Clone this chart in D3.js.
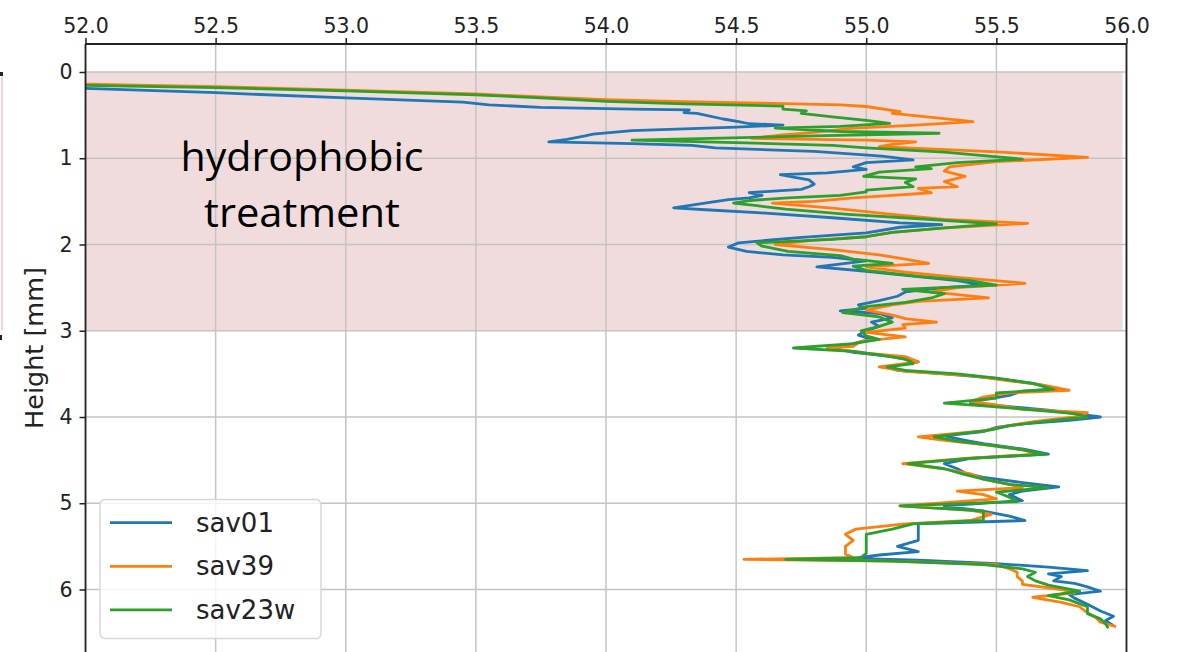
<!DOCTYPE html>
<html>
<head>
<meta charset="utf-8">
<script src="https://cdn.jsdelivr.net/npm/d3@7"></script>
<style>
  html, body { margin: 0; padding: 0; background: #ffffff; }
  svg { display: block; }
</style>
</head>
<body>
<svg id="chart" width="1177" height="652"></svg>
<script>
// ---------------- DATA ----------------
const seriesNames = ["sav01", "sav39", "sav23w"];
const xTicks = [52.0, 52.5, 53.0, 53.5, 54.0, 54.5, 55.0, 55.5, 56.0];
const yTicks = [0, 1, 2, 3, 4, 5, 6];
const shadedBand = [0, 3];   // hydrophobic treatment zone (mm)
const annotationLines = ["hydrophobic", "treatment"];
const yLabel = "Height [mm]";

// [height (mm), value]
const sav01 = [
  [0.19,52.0],[0.24,52.5],[0.30,53.0],[0.35,53.45],[0.38,53.55],[0.41,53.75],[0.43,54.1],[0.44,54.32],
  [0.47,54.3],[0.48,54.35],[0.545,54.45],[0.575,54.51],[0.60,54.55],[0.615,54.68],[0.64,54.5],
  [0.68,54.1],[0.72,53.95],[0.74,53.92],[0.78,53.85],[0.81,53.78],[0.83,54.1],[0.85,54.33],
  [0.88,54.42],[0.92,54.8],[0.975,55.06],[1.02,55.18],[1.05,55.0],[1.10,54.95],[1.13,55.0],
  [1.17,54.85],[1.19,54.67],[1.22,54.72],[1.25,54.78],[1.30,54.8],[1.33,54.78],[1.36,54.75],
  [1.40,54.55],[1.43,54.6],[1.46,54.55],[1.48,54.47],[1.52,54.38],[1.575,54.26],[1.60,54.4],
  [1.63,54.58],[1.69,54.87],[1.75,55.13],[1.77,55.29],[1.80,55.13],[1.865,55.0],[1.92,54.74],
  [1.98,54.51],[2.03,54.47],[2.08,54.54],[2.12,54.68],[2.15,54.87],[2.19,55.0],[2.26,54.81],
  [2.31,55.0],[2.37,55.19],[2.42,55.35],[2.47,55.45],[2.50,55.3],[2.55,55.15],[2.60,55.12],
  [2.65,55.05],[2.70,54.97],[2.74,55.0],[2.77,54.9],[2.80,55.05],[2.85,55.1],[2.90,55.02],
  [2.95,55.05],[3.0,55.0],[3.05,54.97],[3.1,55.02],[3.15,54.95],[3.2,54.87],[3.25,54.95],
  [3.3,55.1],[3.36,55.2],[3.42,55.08],[3.46,55.12],[3.5,55.3],[3.55,55.49],[3.61,55.64],
  [3.67,55.74],[3.70,55.6],[3.75,55.55],[3.80,55.45],[3.84,55.4],[3.88,55.55],[3.92,55.7],
  [3.96,55.8],[4.0,55.9],[4.04,55.78],[4.08,55.6],[4.12,55.5],[4.17,55.45],[4.22,55.3],
  [4.27,55.38],[4.31,55.45],[4.37,55.6],[4.43,55.7],[4.48,55.4],[4.54,55.3],[4.6,55.35],
  [4.65,55.38],[4.70,55.45],[4.76,55.6],[4.81,55.74],[4.86,55.6],[4.90,55.55],[4.97,55.6],
  [5.03,55.3],[5.09,55.45],[5.15,55.55],[5.2,55.61],[5.24,55.2],[5.3,55.2],[5.36,55.2],
  [5.43,55.2],[5.5,55.12],[5.56,55.2],[5.6,55.05],[5.64,54.95],[5.66,55.2],[5.7,55.5],
  [5.74,55.7],[5.78,55.85],[5.82,55.7],[5.85,55.75],[5.9,55.72],[5.93,55.8],[5.97,55.85],
  [6.02,55.9],[6.06,55.78],[6.1,55.8],[6.17,55.85],[6.25,55.9],[6.31,55.95],[6.36,55.92],[6.42,55.95]
];
const sav39 = [
  [0.14,52.0],[0.17,52.5],[0.21,53.0],[0.255,53.5],[0.29,53.75],[0.32,54.0],[0.345,54.3],
  [0.36,54.6],[0.38,54.9],[0.40,55.0],[0.46,55.13],[0.48,55.1],[0.537,55.29],[0.576,55.41],
  [0.615,55.19],[0.653,54.94],[0.70,54.8],[0.73,54.68],[0.77,54.56],[0.79,55.0],[0.81,55.19],
  [0.84,55.1],[0.866,55.05],[0.925,55.5],[0.99,55.85],[1.04,55.5],[1.10,55.32],[1.15,55.3],
  [1.21,55.38],[1.27,55.3],[1.33,55.35],[1.35,55.2],[1.40,55.25],[1.43,55.1],[1.46,54.95],
  [1.50,54.8],[1.52,54.64],[1.58,54.88],[1.65,55.1],[1.71,55.3],[1.755,55.62],[1.81,55.29],
  [1.86,55.1],[1.91,55.0],[1.95,54.8],[2.0,54.65],[2.06,54.87],[2.12,55.05],[2.17,55.15],
  [2.22,55.24],[2.26,55.0],[2.32,55.15],[2.38,55.35],[2.45,55.61],[2.50,55.35],[2.55,55.25],
  [2.62,55.47],[2.66,55.2],[2.70,55.1],[2.76,55.0],[2.82,55.1],[2.86,55.15],[2.9,55.27],
  [2.93,55.14],[2.97,55.15],[3.02,55.0],[3.07,55.15],[3.12,54.98],[3.18,54.95],[3.2,54.85],
  [3.26,55.0],[3.3,55.15],[3.36,55.2],[3.42,55.05],[3.47,55.15],[3.52,55.4],[3.58,55.55],
  [3.63,55.68],[3.69,55.78],[3.72,55.55],[3.77,55.45],[3.82,55.4],[3.86,55.5],[3.91,55.6],
  [3.95,55.85],[4.0,55.8],[4.05,55.65],[4.1,55.55],[4.16,55.45],[4.23,55.2],[4.27,55.3],
  [4.32,55.45],[4.38,55.6],[4.43,55.66],[4.48,55.38],[4.54,55.14],[4.6,55.3],[4.66,55.4],
  [4.72,55.45],[4.78,55.55],[4.82,55.6],[4.86,55.35],[4.9,55.45],[4.95,55.5],[5.03,55.13],
  [5.08,55.4],[5.13,55.48],[5.2,55.4],[5.24,55.15],[5.3,54.96],[5.36,54.92],[5.43,54.95],
  [5.5,54.92],[5.59,54.92],[5.63,54.95],[5.65,54.53],[5.67,55.1],[5.71,55.5],[5.76,55.55],
  [5.8,55.58],[5.85,55.58],[5.9,55.6],[5.94,55.6],[6.0,55.75],[6.04,55.8],[6.09,55.64],
  [6.15,55.75],[6.2,55.82],[6.27,55.85],[6.32,55.88],[6.38,55.9],[6.43,55.96]
];
const sav23w = [
  [0.155,52.0],[0.18,52.5],[0.22,53.0],[0.265,53.5],[0.30,53.75],[0.34,54.0],[0.37,54.3],
  [0.395,54.68],[0.43,54.68],[0.45,54.77],[0.48,54.75],[0.52,54.87],[0.56,55.0],[0.595,55.09],
  [0.63,54.9],[0.65,54.65],[0.69,54.9],[0.71,55.28],[0.74,54.8],[0.77,54.4],[0.79,54.1],
  [0.82,54.5],[0.85,54.87],[0.88,55.0],[0.93,55.3],[0.97,55.45],[1.01,55.6],[1.05,55.35],
  [1.10,55.19],[1.12,55.25],[1.16,55.05],[1.21,54.99],[1.24,55.19],[1.28,55.15],[1.33,55.18],
  [1.37,55.0],[1.39,55.0],[1.43,54.9],[1.46,54.7],[1.49,54.55],[1.52,54.49],[1.55,54.58],
  [1.59,54.69],[1.65,54.93],[1.71,55.25],[1.76,55.5],[1.81,55.29],[1.86,55.1],[1.91,55.0],
  [1.94,54.87],[1.98,54.58],[2.02,54.6],[2.08,54.7],[2.13,54.9],[2.17,54.95],[2.22,55.1],
  [2.25,54.95],[2.3,55.0],[2.37,55.2],[2.42,55.4],[2.47,55.5],[2.52,55.14],[2.57,55.3],
  [2.62,55.25],[2.67,55.15],[2.72,55.0],[2.79,54.91],[2.84,55.05],[2.9,55.1],[2.95,55.05],
  [3.0,54.98],[3.06,55.0],[3.1,55.05],[3.15,54.95],[3.2,54.72],[3.24,54.95],[3.28,55.05],
  [3.33,55.15],[3.38,55.18],[3.42,55.08],[3.46,55.15],[3.5,55.35],[3.55,55.5],[3.61,55.64],
  [3.68,55.72],[3.72,55.5],[3.78,55.5],[3.84,55.3],[3.87,55.45],[3.92,55.65],[3.96,55.8],
  [4.0,55.85],[4.04,55.72],[4.1,55.55],[4.15,55.48],[4.23,55.26],[4.28,55.35],[4.33,55.48],
  [4.38,55.6],[4.43,55.69],[4.48,55.4],[4.54,55.16],[4.6,55.3],[4.66,55.37],[4.72,55.45],
  [4.78,55.55],[4.82,55.7],[4.87,55.5],[4.93,55.55],[4.98,55.58],[5.03,55.13],[5.09,55.45],
  [5.15,55.45],[5.2,55.45],[5.24,55.18],[5.3,55.1],[5.36,55.0],[5.43,55.0],[5.5,55.0],
  [5.58,55.0],[5.63,54.98],[5.65,54.69],[5.67,55.1],[5.71,55.45],[5.76,55.6],[5.8,55.65],
  [5.85,55.62],[5.9,55.65],[5.95,55.7],[6.02,55.82],[6.07,55.7],[6.12,55.78],[6.2,55.85],
  [6.28,55.85],[6.34,55.9],[6.4,55.92],[6.45,55.93]
];
const seriesColors = ["#1f77b4", "#ff7f0e", "#2ca02c"];
const seriesData = [sav01, sav39, sav23w];

// ---------------- DRAW ----------------
const svg = d3.select("#chart");
const W = 1177, H = 652;
const pLeft = 85.5, pRight = 1126.5, pTop = 44, pBottom = 700;

svg.append("rect").attr("width", W).attr("height", H).attr("fill", "#ffffff");

const x = d3.scaleLinear().domain([52, 56]).range([pLeft, pRight]);
const y = d3.scaleLinear().domain([0, 6]).range([72, 589.5]);

svg.append("defs").append("clipPath").attr("id", "plotclip")
  .append("rect").attr("x", pLeft).attr("y", pTop).attr("width", pRight - pLeft).attr("height", pBottom - pTop);

// artifacts of neighbouring panel at far left
svg.append("line").attr("x1", 2).attr("x2", 2).attr("y1", 77).attr("y2", 330)
  .attr("stroke", "#f1d4d4").attr("stroke-width", 2);
svg.append("rect").attr("x", 0).attr("y", 72).attr("width", 3).attr("height", 4).attr("fill", "#222");
svg.append("rect").attr("x", 0).attr("y", 335).attr("width", 2).attr("height", 5).attr("fill", "#222");

const plot = svg.append("g").attr("clip-path", "url(#plotclip)");

// shaded band
plot.append("rect")
  .attr("x", x(52)).attr("y", y(shadedBand[0]))
  .attr("width", x(55.985) - x(52)).attr("height", y(shadedBand[1]) - y(shadedBand[0]))
  .attr("fill", "#f0dcdc");

// grid
plot.append("g").selectAll("line").data(xTicks).join("line")
  .attr("x1", d => x(d)).attr("x2", d => x(d)).attr("y1", pTop).attr("y2", pBottom)
  .attr("stroke", "#c4c4c4").attr("stroke-width", 1.5);
plot.append("g").selectAll("line").data(yTicks).join("line")
  .attr("x1", pLeft).attr("x2", pRight).attr("y1", d => y(d)).attr("y2", d => y(d))
  .attr("stroke", "#c4c4c4").attr("stroke-width", 1.5);

// annotation text
const ann = svg.append("g").attr("font-family", "'Open Sans', sans-serif").attr("fill", "#000");
ann.append("text").attr("x", 302).attr("y", 171).attr("text-anchor", "middle")
  .attr("font-size", 40).attr("textLength", 243).attr("lengthAdjust", "spacingAndGlyphs")
  .text(annotationLines[0]);
ann.append("text").attr("x", 302).attr("y", 227).attr("text-anchor", "middle")
  .attr("font-size", 40).attr("textLength", 196).attr("lengthAdjust", "spacingAndGlyphs")
  .text(annotationLines[1]);

// lines
const line = d3.line().x(d => x(d[1])).y(d => y(d[0]));
seriesData.forEach((s, i) => {
  plot.append("path").datum(s)
    .attr("d", line)
    .attr("fill", "none")
    .attr("stroke", seriesColors[i])
    .attr("stroke-width", 2.8)
    .attr("stroke-linejoin", "round");
});

// spines
svg.append("line").attr("x1", pLeft).attr("x2", pRight).attr("y1", pTop).attr("y2", pTop)
  .attr("stroke", "#222").attr("stroke-width", 1.8);
svg.append("line").attr("x1", pLeft).attr("x2", pLeft).attr("y1", pTop).attr("y2", H)
  .attr("stroke", "#222").attr("stroke-width", 1.8);
svg.append("line").attr("x1", pRight).attr("x2", pRight).attr("y1", pTop).attr("y2", H)
  .attr("stroke", "#222").attr("stroke-width", 1.8);

// axes
const xAxis = d3.axisTop(x).tickValues(xTicks).tickFormat(d3.format(".1f")).tickSize(6).tickPadding(5);
const gx = svg.append("g").attr("transform", `translate(0,${pTop})`).call(xAxis);
gx.select(".domain").remove();
gx.selectAll(".tick line").attr("stroke", "#222").attr("stroke-width", 1.5);
gx.selectAll(".tick text").attr("font-family", "'DejaVu Sans', sans-serif").attr("font-size", 20.5).attr("fill", "#222");

const yAxis = d3.axisLeft(y).tickValues(yTicks).tickFormat(d3.format("d")).tickSize(6).tickPadding(7);
const gy = svg.append("g").attr("transform", `translate(${pLeft},0)`).call(yAxis);
gy.select(".domain").remove();
gy.selectAll(".tick line").attr("stroke", "#222").attr("stroke-width", 1.5);
gy.selectAll(".tick text").attr("font-family", "'DejaVu Sans', sans-serif").attr("font-size", 20.5).attr("fill", "#222");

svg.append("text")
  .attr("transform", "translate(43,348) rotate(-90)")
  .attr("text-anchor", "middle")
  .attr("font-family", "'DejaVu Sans', sans-serif").attr("font-size", 25.5).attr("fill", "#222")
  .text(yLabel);

// legend
const lg = svg.append("g");
lg.append("rect").attr("x", 100).attr("y", 499.5).attr("width", 221).attr("height", 139)
  .attr("rx", 5).attr("fill", "#ffffff").attr("fill-opacity", 0.8)
  .attr("stroke", "#d8d8d8").attr("stroke-width", 1.5);
seriesNames.forEach((n, i) => {
  const yy = 522.7 + i * 43.6;
  lg.append("line").attr("x1", 110).attr("x2", 172).attr("y1", yy).attr("y2", yy)
    .attr("stroke", seriesColors[i]).attr("stroke-width", 2.8);
  lg.append("text").attr("x", 196).attr("y", yy).attr("dy", "0.35em")
    .attr("font-family", "'DejaVu Sans', sans-serif").attr("font-size", 26).attr("fill", "#222")
    .text(n);
});
</script>
</body>
</html>
